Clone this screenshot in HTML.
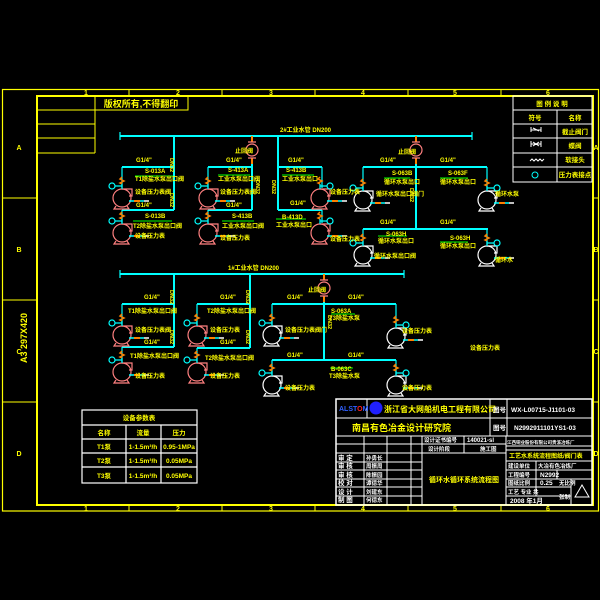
<!DOCTYPE html>
<html><head><meta charset="utf-8"><style>
html,body{margin:0;padding:0;background:#000;width:600px;height:600px;overflow:hidden}
svg{display:block}
text{font-family:"Liberation Sans","Noto Sans CJK SC",sans-serif;font-weight:bold}
</style></head><body>
<svg width="600" height="600" viewBox="0 0 600 600" xmlns="http://www.w3.org/2000/svg">
<rect width="600" height="600" fill="#000"/>
<defs>
<g id="pb" fill="none" stroke="currentColor" stroke-width="1.2">
<path d="M0,1 H10 V8 H7"/><circle cx="0" cy="10" r="9"/><path d="M-6,18 L-8,21 H7 L5,18"/>
</g>
<g id="pf" fill="none">
<path d="M0,-11 L-2,-9 L2,-7 L-2,-5 L0,-4" stroke="#ff8000" stroke-width="1.5"/>
<path d="M0,-4 V1 M0,-2 H-7" stroke="#00ffff" stroke-width="1.2"/>
<circle cx="-10" cy="-2" r="3" stroke="#00ffff" stroke-width="1.2"/>
<path d="M7,13 H12 M18,13 H22" stroke="#00ffff" stroke-width="1.5"/>
<path d="M12,13 H18" stroke="#ff8000" stroke-width="2"/>
<path d="M22,13 H27" stroke="#fff" stroke-width="1.5"/>
</g>
<g id="pfr" fill="none">
<path d="M0,-11 L-2,-9 L2,-7 L-2,-5 L0,-4" stroke="#ff8000" stroke-width="1.5"/>
<path d="M0,-4 V1 M0,-2 H7" stroke="#00ffff" stroke-width="1.2"/>
<circle cx="10" cy="-2" r="3" stroke="#00ffff" stroke-width="1.2"/>
<path d="M7,13 H12 M18,13 H22" stroke="#00ffff" stroke-width="1.5"/>
<path d="M12,13 H18" stroke="#ff8000" stroke-width="2"/>
<path d="M22,13 H27" stroke="#fff" stroke-width="1.5"/>
</g>
<g id="cv" fill="none">
<path d="M0,-14 V-8 M0,8 V14" stroke="#ff8000" stroke-width="2"/>
<circle cx="0" cy="0" r="6" stroke="#ff8080" stroke-width="1.2"/>
<path d="M-4,-8 H4 M-4,8 H4" stroke="#ff8080" stroke-width="1.2"/>
</g>
</defs>

<!-- frames -->
<g fill="none" stroke="#ffff00">
<rect x="2.5" y="89.5" width="596" height="421.5" stroke-width="1.2"/>
<rect x="37" y="96" width="556" height="409" stroke-width="2"/>
<path d="M2,198 H37 M2,300 H37 M2,402 H37 M593,198 H599 M593,300 H599 M593,402 H599" stroke-width="1"/>
<path d="M129,90 V96 M222,90 V96 M315,90 V96 M408,90 V96 M501,90 V96 M129,505 V511 M222,505 V511 M315,505 V511 M408,505 V511 M501,505 V511" stroke-width="1"/>
<path d="M37,110 H95 M37,124 H95 M37,138 H95 M37,153 H95 M95,96 V153 M95,110 H188 V96" stroke-width="1"/>
</g>
<g fill="#ffff00" font-size="7" text-anchor="middle">
<text x="86" y="95">1</text><text x="178" y="95">2</text><text x="271" y="95">3</text><text x="363" y="95">4</text><text x="455" y="95">5</text><text x="548" y="95">6</text>
<text x="86" y="511">1</text><text x="178" y="511">2</text><text x="271" y="511">3</text><text x="363" y="511">4</text><text x="455" y="511">5</text><text x="548" y="511">6</text>
<text x="19" y="150">A</text><text x="19" y="252">B</text><text x="19" y="354">C</text><text x="19" y="456">D</text>
<text x="596" y="150">A</text><text x="596" y="252">B</text><text x="596" y="354">C</text><text x="596" y="456">D</text>
<text transform="translate(27,338) rotate(-90)" font-size="9" font-weight="normal">A3 297X420</text>
<text x="141" y="107" font-size="9">版权所有,不得翻印</text>
</g>

<!-- legend -->
<g fill="none" stroke="#fff" stroke-width="1">
<rect x="513" y="96" width="79" height="86"/>
<path d="M513,110 H592 M513,124 H592 M513,138 H592 M513,153 H592 M513,167 H592 M557,110 V182"/>
<path d="M531,130 h10 M531,127 v5 M541,127 v5 M533,128 l6,3"/>
<path d="M531,144 h10 M531,141 v6 M541,141 v6 M533,142 l6,4 M533,146 l6,-4"/>
<path d="M530,161 l2,-2 l2,2 l2,-2 l2,2 l2,-2 l2,2 l2,-2"/>
</g>
<circle cx="535" cy="175" r="3" fill="none" stroke="#00ffff"/>
<g fill="#ffff00" font-size="6.5" text-anchor="middle">
<text x="552" y="106">图 例 说 明</text>
<text x="535" y="120">符号</text><text x="575" y="120">名称</text>
<text x="575" y="134">截止阀门</text><text x="575" y="148">蝶阀</text><text x="575" y="162">软接头</text><text x="575" y="177">压力表接点</text>
</g>

<!-- upper piping -->
<g fill="none" stroke="#00ffff" stroke-width="2">
<path d="M120,136 H472"/>
<path d="M174,136 V210 M122,167 H174 M122,210 H174"/>
<path d="M252,160 V210 M208,167 H252 M208,210 H252"/>
<path d="M278,136 V210 M278,167 H322 M278,210 H322"/>
<path d="M416,160 V229 M363,167 H487 M363,229 H488"/>
<path d="M122,167 V188 M122,210 V223 M208,167 V188 M208,210 V223 M322,167 V188 M322,210 V223 M363,167 V190 M487,167 V190 M363,229 V245 M487,229 V245" stroke-width="1.2"/>
<!-- lower -->
<path d="M120,274 H404"/>
<path d="M174,274 V347 M122,304 H174 M122,347 H174"/>
<path d="M250,274 V348 M197,304 H250 M197,348 H250"/>
<path d="M324,298 V360 M272,304 H396 M272,360 H396"/>
<path d="M122,304 V325 M122,347 V362 M197,304 V325 M197,348 V362 M272,304 V325 M272,360 V375 M396,304 V327 M396,360 V375" stroke-width="1.2"/>
<path d="M120,132 V140 M472,132 V140 M120,270 V278 M404,270 V278" stroke-width="1.2"/>
</g>
<use href="#cv" x="252" y="150"/><use href="#cv" x="416" y="150"/><use href="#cv" x="324" y="288"/>

<!-- pumps -->
<g style="color:#ff8080">
<use href="#pb" x="122" y="188"/><use href="#pb" x="122" y="223"/>
<use href="#pb" x="208" y="188"/><use href="#pb" x="208" y="223"/>
<use href="#pb" x="320" y="188"/><use href="#pb" x="320" y="223"/>
<use href="#pb" x="122" y="325"/><use href="#pb" x="122" y="362"/>
<use href="#pb" x="197" y="325"/><use href="#pb" x="197" y="362"/>
</g>
<g style="color:#ffffff">
<use href="#pb" x="363" y="190"/><use href="#pb" x="487" y="190"/>
<use href="#pb" x="363" y="245"/><use href="#pb" x="487" y="245"/>
<use href="#pb" x="272" y="325"/><use href="#pb" x="272" y="375"/>
<use href="#pb" x="396" y="327"/><use href="#pb" x="396" y="375"/>
</g>
<use href="#pf" x="122" y="188"/><use href="#pf" x="122" y="223"/>
<use href="#pf" x="208" y="188"/><use href="#pf" x="208" y="223"/>
<use href="#pfr" x="320" y="188"/><use href="#pfr" x="320" y="223"/>
<use href="#pf" x="363" y="190"/><use href="#pfr" x="487" y="190"/>
<use href="#pf" x="363" y="245"/><use href="#pfr" x="487" y="245"/>
<use href="#pf" x="122" y="325"/><use href="#pf" x="122" y="362"/>
<use href="#pf" x="197" y="325"/><use href="#pf" x="197" y="362"/>
<use href="#pf" x="272" y="325"/><use href="#pf" x="272" y="375"/>
<use href="#pfr" x="396" y="327"/><use href="#pfr" x="396" y="375"/>

<!-- green label lines -->
<g stroke="#00ff00" stroke-width="1">
<path d="M135,176 H173 M133,221 H172 M218,175 H250 M222,221 H254 M282,175 H314 M276,219 H306 M384,178 H410 M440,178 H468 M378,236 H407 M440,242 H468 M331,314 H355 M330,368 H353"/>
</g>

<!-- labels -->
<g fill="#ffff00" font-size="6">
<text x="280" y="132">2#工业水管 DN200</text>
<text x="228" y="270">1#工业水管 DN200</text>
<text x="136" y="162">G1/4"</text><text x="226" y="162">G1/4"</text><text x="288" y="162">G1/4"</text>
<text x="380" y="162">G1/4"</text><text x="440" y="162">G1/4"</text>
<text x="380" y="224">G1/4"</text><text x="440" y="224">G1/4"</text>
<text x="136" y="207">G1/4"</text><text x="226" y="207">G1/4"</text><text x="290" y="205">G1/4"</text>
<text x="144" y="299">G1/4"</text><text x="220" y="299">G1/4"</text><text x="287" y="299">G1/4"</text><text x="348" y="299">G1/4"</text>
<text x="144" y="344">G1/4"</text><text x="220" y="344">G1/4"</text><text x="287" y="357">G1/4"</text><text x="348" y="357">G1/4"</text>
<text x="145" y="173">S-013A</text><text x="135" y="181">T1除盐水泵出口阀</text><text x="135" y="194">设备压力表阀</text>
<text x="145" y="218">S-013B</text><text x="133" y="228">T2除盐水泵出口阀</text><text x="135" y="238">设备压力表</text>
<text x="228" y="172">S-413A</text><text x="218" y="181">工业水泵出口阀</text><text x="220" y="194">设备压力表阀</text>
<text x="232" y="218">S-413B</text><text x="222" y="228">工业水泵出口阀</text><text x="220" y="240">设备压力表</text>
<text x="286" y="172">S-413B</text><text x="282" y="181">工业水泵出口</text><text x="330" y="194">设备压力表</text>
<text x="282" y="219">B-413D</text><text x="276" y="227">工业水泵出口</text><text x="330" y="241">设备压力表</text>
<text x="392" y="175">S-063B</text><text x="384" y="184">循环水泵出口</text><text x="376" y="196">循环水泵出口阀门</text>
<text x="448" y="175">S-063F</text><text x="440" y="184">循环水泵出口</text><text x="495" y="196">循环水泵</text>
<text x="386" y="236">S-063H</text><text x="378" y="243">循环水泵出口</text><text x="374" y="258">循环水泵出口阀</text>
<text x="450" y="240">S-063H</text><text x="440" y="248">循环水泵出口</text><text x="495" y="262">循环水</text>
<text x="235" y="153">止回阀</text><text x="398" y="154">止回阀</text><text x="308" y="292">止回阀</text>
<text x="128" y="313">T1除盐水泵出口阀</text><text x="135" y="332">设备压力表阀</text>
<text x="130" y="358">T1除盐水泵出口阀</text><text x="135" y="378">设备压力表</text>
<text x="207" y="313">T2除盐水泵出口阀</text><text x="210" y="332">设备压力表</text>
<text x="205" y="360">T2除盐水泵出口阀</text><text x="210" y="378">设备压力表</text>
<text x="331" y="313">S-063A</text><text x="329" y="320">T3除盐水泵</text><text x="285" y="332">设备压力表阀门</text>
<text x="331" y="371">B-063C</text><text x="329" y="378">T3除盐水泵</text><text x="285" y="390">设备压力表</text>
<text x="402" y="333">设备压力表</text><text x="402" y="390">设备压力表</text>
<text x="470" y="350">设备压力表</text>
</g>
<g fill="#ffff00" font-size="5.5">
<text transform="translate(170,158) rotate(90)">DN32</text>
<text transform="translate(170,193) rotate(90)">DN32</text>
<text transform="translate(256,180) rotate(90)">DN32</text>
<text transform="translate(272,180) rotate(90)">DN32</text>
<text transform="translate(410,188) rotate(90)">DN32</text>
<text transform="translate(170,290) rotate(90)">DN32</text>
<text transform="translate(170,330) rotate(90)">DN32</text>
<text transform="translate(246,290) rotate(90)">DN32</text>
<text transform="translate(246,330) rotate(90)">DN32</text>
<text transform="translate(328,315) rotate(90)">DN32</text>
</g>

<!-- parameter table -->
<g fill="none" stroke="#fff" stroke-width="1.2">
<rect x="82" y="410" width="115" height="73"/>
<path d="M82,425 H197 M82,439 H197 M82,453 H197 M82,467 H197 M126,425 V483 M161,425 V483"/>
</g>
<g fill="#ffff00" font-size="6.5" text-anchor="middle">
<text x="139" y="420">设备参数表</text>
<text x="104" y="435">名称</text><text x="143" y="435">流量</text><text x="179" y="435">压力</text>
<text x="104" y="449">T1泵</text><text x="143" y="449">1-1.5m³/h</text><text x="179" y="449">0.95-1MPa</text>
<text x="104" y="463">T2泵</text><text x="143" y="463">1-1.5m³/h</text><text x="179" y="463">0.05MPa</text>
<text x="104" y="478">T3泵</text><text x="143" y="478">1-1.5m³/h</text><text x="179" y="478">0.05MPa</text>
</g>

<!-- title block -->
<g fill="none" stroke="#fff" stroke-width="1">
<rect x="336" y="399" width="256" height="106" stroke-width="1.5"/>
<path d="M336,418 H592 M336,436 H592 M367,399 V418 M490,399 V436 M507,399 V436"/>
<path d="M336,444 H422 M336,453 H506 M336,462 H422 M336,470 H422 M336,479 H422 M336,487 H422 M336,496 H422"/>
<path d="M364,436 V505 M387,436 V505 M411,436 V505 M422,436 V505 M464,436 V453 M506,436 V505 M422,444 H506"/>
<path d="M506,446 H592 M506,450 H592 M506,461 H592 M506,470 H592 M506,479 H592 M506,487 H571 M506,496 H571"/>
<path d="M536,461 V496 M557,470 V479 M571,479 V505"/>
</g>
<path d="M582,485 L575,497 H589 Z" fill="none" stroke="#fff"/>
<circle cx="376" cy="408" r="6.5" fill="#2020ff"/>
<text x="339" y="411" font-size="7" fill="#3060ff">ALST<tspan fill="#ff2020">O</tspan>M</text>
<g fill="#ffff00" font-size="8">
<text x="384" y="412">浙江省大网船机电工程有限公司</text>
<text x="352" y="431" font-size="9">南昌有色冶金设计研究院</text>
</g>
<g fill="#fff" font-size="6.5">
<text x="493" y="412">图号</text><text x="511" y="412">WX-L00715-J1101-03</text>
<text x="493" y="430">图号</text><text x="514" y="430">N2992911101YS1-03</text>
<text x="424" y="442" font-size="5.5">设计证书编号</text><text x="467" y="442" font-size="6">140021-sl</text>
<text x="428" y="451" font-size="5.5">设计阶段</text><text x="480" y="451" font-size="5.5">施工图</text>
<text x="507" y="444" font-size="4.5">江西铜业股份有限公司贵溪冶炼厂</text>
<text x="338" y="460">审 定</text><text x="338" y="468">审 核</text><text x="338" y="477">审 核</text>
<text x="338" y="485">校 对</text><text x="338" y="494">设 计</text><text x="338" y="502">制 图</text>
<text x="366" y="460" font-size="5.5">孙勇长</text><text x="366" y="468" font-size="5.5">周振周</text><text x="366" y="477" font-size="5.5">陈振园</text>
<text x="366" y="485" font-size="5.5">谭德华</text><text x="366" y="494" font-size="5.5">刘建东</text><text x="366" y="502" font-size="5.5">何德东</text>
<text x="508" y="468" font-size="5.5">建设单位</text><text x="538" y="468" font-size="5.5">大冶有色冶炼厂</text>
<text x="508" y="477" font-size="5.5">工程编号</text><text x="540" y="477">N2992</text>
<text x="508" y="485" font-size="5.5">图纸比例</text><text x="540" y="485">0.25</text><text x="559" y="485" font-size="5.5">无比例</text>
<text x="508" y="494" font-size="5.5">工艺 专业 共</text><text x="559" y="499" font-size="5.5">张制</text>
<text x="510" y="503">2008 年1月</text>
</g>
<g fill="#ffff00" font-size="6">
<text x="509" y="458">工艺水系统流程图纸/阀门表</text>
<text x="464" y="482" text-anchor="middle" font-size="7">循环水循环系统流程图</text>
</g>
</svg>
</body></html>
